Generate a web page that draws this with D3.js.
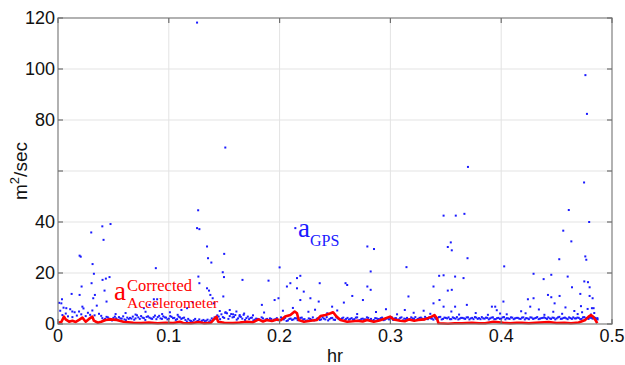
<!DOCTYPE html>
<html>
<head>
<meta charset="utf-8">
<script src="https://cdn.jsdelivr.net/npm/d3@7"></script>
<style>
  html, body { margin: 0; padding: 0; background: #fff; }
  svg { display: block; }
</style>
</head>
<body>
<svg id="chart" width="625" height="365"></svg>
<script>
// GPS-derived acceleration (blue dots) vs corrected accelerometer (red line).
const xTicks = [0, 0.1, 0.2, 0.3, 0.4, 0.5];
const xTickLabels = ['0', '0.1', '0.2', '0.3', '0.4', '0.5'];
const yGrid = [20, 40, 60, 80, 100];
const yTicks = [0, 20, 40, 80, 100, 120];   // 60 has no label in the original

// outliers well above the band
const gpsScatter = [
  [0.1255, 118.2], [0.476, 97.6], [0.4774, 82.4], [0.151, 69.2], [0.370, 61.6], [0.4748, 55.5],
  [0.1265, 44.6], [0.348, 42.5], [0.359, 42.5], [0.3668, 43.2], [0.461, 44.7], [0.4794, 40.0],
  [0.040, 38.3], [0.0474, 39.2], [0.1255, 37.6], [0.1276, 37.2], [0.2142, 37.6],
  [0.0195, 26.8], [0.0205, 26.4], [0.0213, 14.7], [0.0195, 11.4], [0.022, 6.8],
  [0.030, 35.9], [0.0312, 23.5], [0.0303, 16.0], [0.0324, 19.7], [0.0333, 11.4], [0.0318, 10.1],
  [0.0411, 33.0], [0.0402, 17.3], [0.0432, 17.8], [0.0465, 18.4], [0.042, 13.1], [0.0438, 8.8],
  [0.0883, 21.9], [0.0865, 9.7], [0.0895, 9.7], [0.087, 7.9], [0.0826, 7.5], [0.0775, 6.2],
  [0.1267, 18.6], [0.1276, 16.0], [0.1345, 30.4], [0.1354, 25.8], [0.1384, 24.1], [0.1345, 14.0],
  [0.1363, 13.1], [0.1375, 11.4], [0.1396, 10.1], [0.1405, 8.1], [0.1216, 8.5], [0.1165, 6.2],
  [0.1114, 5.5], [0.0075, 6.2], [0.0129, 4.9], [0.003, 8.1], [0.0036, 9.7], [0.0123, 11.8],
  [0.150, 27.5], [0.1487, 20.3], [0.1498, 18.4], [0.1492, 10.8], [0.1665, 17.3], [0.184, 7.5],
  [0.190, 17.0], [0.200, 22.2], [0.199, 10.1], [0.1955, 9.4], [0.2066, 14.7], [0.2097, 16.0],
  [0.2157, 18.0], [0.2187, 18.9], [0.2157, 14.0], [0.2218, 12.7], [0.2187, 9.4], [0.2278, 10.1],
  [0.2362, 16.0], [0.2353, 8.8], [0.2595, 16.0], [0.2610, 15.3], [0.2656, 11.0], [0.2580, 8.4],
  [0.2792, 30.4], [0.2852, 29.4], [0.2822, 20.6], [0.2792, 14.7], [0.2822, 13.4], [0.2752, 9.4],
  [0.3145, 22.3], [0.3163, 10.8], [0.3130, 5.5], [0.2474, 6.8],
  [0.3518, 30.2], [0.3545, 32.0], [0.3554, 28.9], [0.3696, 25.8], [0.344, 18.9], [0.348, 19.1],
  [0.3584, 18.6], [0.366, 18.0], [0.3518, 13.1], [0.3554, 13.4], [0.3389, 14.7], [0.3443, 9.4],
  [0.3389, 8.1], [0.3584, 6.8], [0.3480, 6.8], [0.3690, 7.5], [0.4027, 22.6], [0.3916, 6.8],
  [0.3946, 6.8], [0.402, 8.8], [0.4292, 19.7], [0.4383, 17.6], [0.4452, 19.3], [0.4241, 9.7],
  [0.4292, 10.1], [0.4262, 6.8], [0.4422, 11.4], [0.4452, 10.5], [0.4527, 11.0], [0.4482, 8.1],
  [0.4524, 25.4], [0.456, 36.6], [0.4633, 32.4], [0.460, 18.6], [0.4639, 14.4], [0.4714, 11.8],
  [0.4720, 7.0], [0.4759, 26.5], [0.4768, 25.2], [0.475, 16.7], [0.4783, 16.4], [0.4798, 14.4],
  [0.4798, 11.0], [0.4825, 10.1], [0.4819, 6.2], [0.4834, 6.2]
];

// moderate points just above the band
const gpsLow = [
  [0.001, 8.3], [0.002, 5.2], [0.004, 3.5], [0.005, 6.4], [0.007, 4.1], [0.009, 3.0], [0.011, 5.8],
  [0.013, 2.7], [0.015, 4.6], [0.017, 3.3], [0.019, 4.9], [0.021, 3.8], [0.023, 6.1], [0.025, 3.1],
  [0.027, 4.4], [0.029, 3.6], [0.031, 5.3], [0.033, 3.4], [0.035, 7.2], [0.037, 4.0], [0.039, 3.2],
  [0.052, 3.9], [0.061, 4.3], [0.070, 3.7], [0.079, 4.8], [0.094, 3.9], [0.101, 4.6], [0.108, 3.6],
  [0.146, 5.1], [0.151, 4.4], [0.155, 5.5], [0.158, 3.8], [0.161, 4.9], [0.164, 3.5], [0.168, 4.1],
  [0.176, 3.4], [0.186, 4.5], [0.203, 5.2], [0.212, 6.3], [0.226, 4.8], [0.232, 5.6], [0.243, 4.2],
  [0.252, 5.3], [0.270, 3.9], [0.287, 4.7], [0.296, 5.8], [0.306, 3.8], [0.321, 4.4], [0.330, 5.2],
  [0.336, 4.0], [0.355, 4.9], [0.362, 3.7], [0.377, 4.3], [0.388, 3.6], [0.396, 5.4], [0.399, 4.1],
  [0.405, 3.8], [0.418, 5.0], [0.422, 4.2], [0.434, 5.7], [0.439, 3.6], [0.447, 4.8], [0.455, 4.0],
  [0.458, 6.5], [0.466, 5.1], [0.469, 3.9], [0.473, 4.6], [0.478, 5.9], [0.481, 3.7], [0.484, 4.3]
];

// dense band around 2 m2/sec
const gpsBandA = [
  [0.0400, 2.3], [0.0425, 2.0], [0.0450, 2.6], [0.0475, 1.9], [0.0500, 2.4], [0.0525, 2.2], [0.0550, 2.7], [0.0575, 2.1], [0.0600, 1.8], [0.0625, 2.5],
  [0.0650, 2.4], [0.0675, 2.9], [0.0700, 2.2], [0.0725, 2.6], [0.0750, 3.1], [0.0775, 2.3], [0.0800, 2.8], [0.0825, 2.5], [0.0850, 2.0], [0.0875, 3.3],
  [0.0900, 2.7], [0.0925, 2.2], [0.0950, 3.0], [0.0975, 2.5], [0.1000, 2.1], [0.1025, 2.8], [0.1050, 2.4], [0.1075, 1.9], [0.1100, 2.6], [0.1125, 2.3],
  [0.1150, 1.6], [0.1175, 2.0], [0.1200, 1.2], [0.1225, 1.5], [0.1250, 1.0], [0.1275, 1.8], [0.1300, 1.3], [0.1325, 1.1], [0.1350, 1.7], [0.1375, 1.4],
  [0.1400, 1.5], [0.1425, 2.1], [0.1450, 2.9], [0.1475, 3.8], [0.1500, 2.4], [0.1525, 4.2], [0.1550, 3.1], [0.1575, 2.6], [0.1600, 3.5], [0.1625, 2.2],
  [0.1650, 2.8], [0.1675, 3.6], [0.1700, 2.3], [0.1725, 1.9], [0.1750, 2.5], [0.1775, 1.7], [0.1800, 2.0], [0.1825, 1.6], [0.1850, 2.2], [0.1875, 1.8],
  [0.1900, 1.5], [0.1925, 2.0], [0.1950, 1.7], [0.1975, 2.3], [0.2000, 1.6], [0.2025, 1.9], [0.2050, 2.4], [0.2075, 1.4], [0.2100, 2.1], [0.2125, 1.8],
  [0.2150, 2.2], [0.2175, 1.6], [0.2200, 2.5], [0.2225, 1.9], [0.2250, 1.4], [0.2275, 2.0], [0.2300, 2.6], [0.2325, 1.7], [0.2350, 2.3], [0.2375, 1.8],
  [0.2400, 2.1], [0.2425, 2.7], [0.2450, 1.9], [0.2475, 2.4], [0.2500, 1.6], [0.2525, 2.2], [0.2550, 1.8], [0.2575, 2.5], [0.2600, 2.0], [0.2625, 1.7],
  [0.2650, 2.3], [0.2675, 1.9], [0.2700, 2.6], [0.2725, 1.5], [0.2750, 2.1], [0.2775, 1.8], [0.2800, 2.4], [0.2825, 2.0], [0.2850, 1.6], [0.2875, 2.2],
  [0.2900, 1.9], [0.2925, 2.5], [0.2950, 1.7], [0.2975, 2.2], [0.3000, 2.0], [0.3025, 1.6], [0.3050, 2.3], [0.3075, 1.8], [0.3100, 2.6], [0.3125, 2.1],
  [0.3150, 2.4], [0.3175, 1.9], [0.3200, 2.2], [0.3225, 2.7], [0.3250, 2.0], [0.3275, 2.5], [0.3300, 1.8], [0.3325, 2.3], [0.3350, 2.6], [0.3375, 2.1],
  [0.3400, 2.5], [0.3425, 2.2], [0.3450, 2.8], [0.3475, 2.0], [0.3500, 2.4], [0.3525, 2.6], [0.3550, 1.9], [0.3575, 2.3], [0.3600, 2.7], [0.3625, 2.1],
  [0.3650, 2.4], [0.3675, 2.0], [0.3700, 2.6], [0.3725, 2.2], [0.3750, 1.9], [0.3775, 2.5], [0.3800, 2.3], [0.3825, 2.7], [0.3850, 2.1], [0.3875, 2.4],
  [0.3900, 2.2], [0.3925, 2.6], [0.3950, 1.9], [0.3975, 2.4], [0.4000, 2.1], [0.4025, 2.7], [0.4050, 2.3], [0.4075, 2.0], [0.4100, 2.5], [0.4125, 2.2],
  [0.4150, 2.4], [0.4175, 2.0], [0.4200, 2.6], [0.4225, 2.3], [0.4250, 1.9], [0.4275, 2.5], [0.4300, 2.2], [0.4325, 2.7], [0.4350, 2.1], [0.4375, 2.4],
  [0.4400, 2.3], [0.4425, 2.6], [0.4450, 2.0], [0.4475, 2.4], [0.4500, 2.2], [0.4525, 2.8], [0.4550, 2.1], [0.4575, 2.5], [0.4600, 1.9], [0.4625, 2.3],
  [0.4650, 2.6], [0.4675, 2.2], [0.4700, 2.4], [0.4725, 2.0], [0.4750, 2.7], [0.4775, 2.3], [0.4800, 2.5], [0.4825, 2.1], [0.4850, 2.4], [0.4870, 1.8]
];

const gpsBandB = [
  [0.0413, 1.6], [0.0438, 2.8], [0.0463, 2.1], [0.0488, 1.4], [0.0513, 2.9], [0.0538, 1.7], [0.0563, 2.2], [0.0588, 3.0], [0.0613, 1.5], [0.0638, 2.0],
  [0.0663, 2.1], [0.0688, 1.7], [0.0713, 3.4], [0.0738, 2.0], [0.0763, 2.5], [0.0788, 1.6], [0.0813, 3.0], [0.0838, 2.2], [0.0863, 2.7], [0.0888, 1.9],
  [0.0913, 3.2], [0.0938, 2.0], [0.0963, 2.6], [0.0988, 1.8], [0.1013, 3.1], [0.1038, 2.3], [0.1063, 1.6], [0.1088, 2.9], [0.1113, 2.0], [0.1138, 2.5],
  [0.1163, 1.0], [0.1188, 1.4], [0.1213, 0.8], [0.1238, 2.0], [0.1263, 1.2], [0.1288, 0.9], [0.1313, 1.6], [0.1338, 1.3], [0.1363, 0.7], [0.1388, 2.2],
  [0.1413, 2.6], [0.1438, 3.4], [0.1463, 1.9], [0.1488, 2.7], [0.1513, 4.6], [0.1538, 2.0], [0.1563, 3.9], [0.1588, 2.8], [0.1613, 1.7], [0.1638, 3.0],
  [0.1663, 2.1], [0.1688, 1.6], [0.1713, 2.9], [0.1738, 2.4], [0.1763, 1.4], [0.1788, 2.1], [0.1813, 1.8], [0.1838, 2.6], [0.1863, 1.3], [0.1888, 2.0],
  [0.1913, 2.2], [0.1938, 1.3], [0.1963, 1.9], [0.1988, 1.5], [0.2013, 2.6], [0.2038, 1.8], [0.2063, 1.2], [0.2088, 2.0], [0.2113, 1.6], [0.2138, 2.3],
  [0.2163, 1.5], [0.2188, 2.4], [0.2213, 1.8], [0.2238, 1.2], [0.2263, 2.2], [0.2288, 1.7], [0.2313, 1.4], [0.2338, 2.1], [0.2363, 1.6], [0.2388, 2.6],
  [0.2413, 1.8], [0.2438, 1.4], [0.2463, 2.3], [0.2488, 1.7], [0.2513, 2.6], [0.2538, 1.9], [0.2563, 2.2], [0.2588, 1.5], [0.2613, 2.4], [0.2638, 2.0],
  [0.2663, 1.7], [0.2688, 2.5], [0.2713, 1.4], [0.2738, 2.0], [0.2763, 1.8], [0.2788, 2.6], [0.2813, 1.6], [0.2838, 1.3], [0.2863, 2.3], [0.2888, 1.9],
  [0.2913, 2.3], [0.2938, 1.5], [0.2963, 2.1], [0.2988, 1.8], [0.3013, 2.6], [0.3038, 2.2], [0.3063, 1.7], [0.3088, 2.4], [0.3113, 1.4], [0.3138, 2.0],
  [0.3163, 1.8], [0.3188, 2.6], [0.3213, 2.0], [0.3238, 1.7], [0.3263, 2.4], [0.3288, 2.1], [0.3313, 2.8], [0.3338, 1.9], [0.3363, 2.2], [0.3388, 1.7],
  [0.3413, 2.0], [0.3438, 2.7], [0.3463, 1.8], [0.3488, 2.5], [0.3513, 2.2], [0.3538, 1.9], [0.3563, 2.6], [0.3588, 2.1], [0.3613, 1.8], [0.3638, 2.4],
  [0.3663, 2.2], [0.3688, 2.6], [0.3713, 1.8], [0.3738, 2.4], [0.3763, 2.7], [0.3788, 2.0], [0.3813, 1.9], [0.3838, 2.2], [0.3863, 2.5], [0.3888, 1.8],
  [0.3913, 2.5], [0.3938, 1.9], [0.3963, 2.3], [0.3988, 2.0], [0.4013, 2.6], [0.4038, 1.8], [0.4063, 2.2], [0.4088, 2.6], [0.4113, 1.9], [0.4138, 2.4],
  [0.4163, 2.1], [0.4188, 2.5], [0.4213, 1.8], [0.4238, 2.2], [0.4263, 2.6], [0.4288, 2.0], [0.4313, 2.4], [0.4338, 1.9], [0.4363, 2.3], [0.4388, 2.6],
  [0.4413, 2.0], [0.4438, 2.2], [0.4463, 2.5], [0.4488, 1.8], [0.4513, 2.6], [0.4538, 2.0], [0.4563, 2.4], [0.4588, 2.2], [0.4613, 2.6], [0.4638, 2.0],
  [0.4663, 2.2], [0.4688, 2.5], [0.4713, 1.9], [0.4738, 2.6], [0.4763, 2.2], [0.4788, 2.0], [0.4813, 2.4], [0.4838, 2.6], [0.4858, 2.0], [0.4868, 2.3]
];

// corrected accelerometer trace
const accel = [
  [0.000, 0.5], [0.003, 0.8], [0.0054, 2.9], [0.0069, 1.8], [0.010, 0.9], [0.013, 1.3], [0.016, 0.8], [0.019, 1.6],
  [0.022, 2.5], [0.025, 0.9], [0.028, 2.0], [0.031, 2.9], [0.0324, 1.3], [0.036, 0.5], [0.039, 0.9], [0.043, 1.6],
  [0.047, 1.8], [0.053, 1.6], [0.059, 0.9], [0.068, 0.5], [0.075, 0.4], [0.082, 0.6], [0.090, 0.3], [0.097, 0.5],
  [0.104, 0.4], [0.110, 0.9], [0.113, 0.4], [0.120, 0.3], [0.127, 0.8], [0.132, 0.3], [0.138, 0.5], [0.143, 2.9],
  [0.1445, 0.9], [0.150, 0.5], [0.158, 0.4], [0.164, 0.6], [0.170, 0.9], [0.176, 0.7], [0.181, 1.8], [0.185, 1.0],
  [0.1885, 1.6], [0.193, 1.2], [0.1976, 1.8], [0.201, 1.5], [0.205, 2.9], [0.2097, 3.5], [0.2136, 4.9], [0.2157, 4.2],
  [0.2172, 1.6], [0.222, 0.9], [0.228, 1.3], [0.2338, 1.6], [0.2369, 3.1], [0.2414, 3.5], [0.246, 4.2], [0.2483, 4.6],
  [0.2514, 2.9], [0.255, 1.6], [0.261, 0.9], [0.266, 1.1], [0.270, 1.3], [0.275, 1.0], [0.279, 1.6], [0.285, 0.9],
  [0.290, 1.4], [0.294, 2.0], [0.2997, 2.9], [0.303, 1.8], [0.309, 1.3], [0.313, 1.1], [0.317, 1.8], [0.3215, 1.3],
  [0.325, 1.6], [0.331, 1.8], [0.3373, 2.9], [0.3398, 3.5], [0.342, 2.2], [0.3434, 0.3], [0.348, 0.2], [0.352, 0.1],
  [0.358, 0.3], [0.3645, 0.3], [0.3735, 0.5], [0.380, 0.3], [0.3855, 0.3], [0.393, 0.9], [0.3976, 0.7], [0.402, 0.5],
  [0.408, 0.3], [0.414, 0.5], [0.4187, 0.5], [0.425, 0.3], [0.431, 0.5], [0.4428, 0.8], [0.450, 0.4], [0.457, 0.5],
  [0.463, 0.3], [0.4699, 0.6], [0.4759, 1.6], [0.4789, 2.9], [0.481, 3.5], [0.4828, 2.9], [0.485, 1.6], [0.4867, 0.3]
];

const W = 625, H = 365;
const margin = { top: 18, right: 13, bottom: 41, left: 58 };
const plotW = W - margin.left - margin.right;
const plotH = H - margin.top - margin.bottom;

const svg = d3.select('#chart');
const g = svg.append('g').attr('transform', `translate(${margin.left},${margin.top})`);

const x = d3.scaleLinear().domain([0, 0.5]).range([0, plotW]);
const y = d3.scaleLinear().domain([0, 120]).range([plotH, 0]);

// grid
g.append('g')
  .selectAll('line')
  .data(xTicks.slice(1, -1))
  .join('line')
  .attr('x1', (d) => x(d)).attr('x2', (d) => x(d))
  .attr('y1', 0).attr('y2', plotH)
  .attr('stroke', '#e3e3e3').attr('stroke-width', 1);

g.append('g')
  .selectAll('line')
  .data(yGrid)
  .join('line')
  .attr('x1', 0).attr('x2', plotW)
  .attr('y1', (d) => y(d)).attr('y2', (d) => y(d))
  .attr('stroke', '#e3e3e3').attr('stroke-width', 1);

// GPS dots
const dots = g.append('g').attr('fill', '#1a1aff');
[gpsBandA, gpsBandB, gpsLow, gpsScatter].forEach((series) => {
  dots.append('g')
    .selectAll('rect')
    .data(series)
    .join('rect')
    .attr('x', (d) => x(d[0]) - 1)
    .attr('y', (d) => y(d[1]) - 1)
    .attr('width', 2)
    .attr('height', 2);
});

// accelerometer line
g.append('path')
  .datum(accel)
  .attr('fill', 'none')
  .attr('stroke', '#ff0000')
  .attr('stroke-width', 2.6)
  .attr('stroke-linejoin', 'round')
  .attr('d', d3.line().x((d) => x(d[0])).y((d) => y(d[1])));

// box
g.append('rect')
  .attr('width', plotW).attr('height', plotH)
  .attr('fill', 'none').attr('stroke', '#7f7f7f').attr('stroke-width', 1.2);

// ticks, pointing inward on all four sides
const tickLen = 5;
const tickG = g.append('g').attr('stroke', '#6f6f6f').attr('stroke-width', 1.2);
xTicks.forEach((t) => {
  tickG.append('line').attr('x1', x(t)).attr('x2', x(t)).attr('y1', plotH).attr('y2', plotH - tickLen);
  tickG.append('line').attr('x1', x(t)).attr('x2', x(t)).attr('y1', 0).attr('y2', tickLen);
});
yGrid.concat([0, 120]).forEach((t) => {
  tickG.append('line').attr('x1', 0).attr('x2', tickLen).attr('y1', y(t)).attr('y2', y(t));
  tickG.append('line').attr('x1', plotW).attr('x2', plotW - tickLen).attr('y1', y(t)).attr('y2', y(t));
});

const sans = "'Liberation Sans', Arial, sans-serif";
const serif = "'Liberation Serif', 'Times New Roman', serif";

g.append('g')
  .selectAll('text')
  .data(xTicks)
  .join('text')
  .attr('x', (d) => x(d))
  .attr('y', plotH + 18)
  .attr('text-anchor', 'middle')
  .style('font-family', sans)
  .style('font-size', '18px')
  .attr('fill', '#111')
  .text((d, i) => xTickLabels[i]);

g.append('g')
  .selectAll('text')
  .data(yTicks)
  .join('text')
  .attr('x', -3)
  .attr('y', (d) => y(d) + 6)
  .attr('text-anchor', 'end')
  .style('font-family', sans)
  .style('font-size', '18px')
  .attr('fill', '#111')
  .text((d) => d);

// axis titles
svg.append('text')
  .attr('x', margin.left + plotW / 2)
  .attr('y', 362)
  .attr('text-anchor', 'middle')
  .style('font-family', sans)
  .style('font-size', '18px')
  .attr('fill', '#111')
  .text('hr');

const yl = svg.append('text')
  .attr('transform', `translate(27,${margin.top + plotH / 2}) rotate(-90)`)
  .attr('text-anchor', 'middle')
  .style('font-family', sans)
  .style('font-size', '19px')
  .attr('fill', '#111');
yl.append('tspan').text('m');
yl.append('tspan').attr('dy', -8).style('font-size', '13px').text('2');
yl.append('tspan').attr('dy', 8).text('/sec');

// in-plot labels
const gpsLab = svg.append('text')
  .attr('x', 298).attr('y', 237)
  .style('font-family', serif)
  .attr('fill', '#1a1aff');
gpsLab.append('tspan').style('font-size', '27px').text('a');
gpsLab.append('tspan').attr('dy', 9).style('font-size', '16px').text('GPS');

svg.append('text')
  .attr('x', 114).attr('y', 300)
  .style('font-family', serif).style('font-size', '27px')
  .attr('fill', '#ff0000')
  .text('a');
svg.append('text')
  .attr('x', 127).attr('y', 291)
  .style('font-family', serif).style('font-size', '16.5px')
  .attr('fill', '#ff0000')
  .text('Corrected');
svg.append('text')
  .attr('x', 127).attr('y', 308)
  .style('font-family', serif).style('font-size', '15.5px')
  .attr('fill', '#ff0000')
  .text('Accelerometer');
</script>
</body>
</html>
